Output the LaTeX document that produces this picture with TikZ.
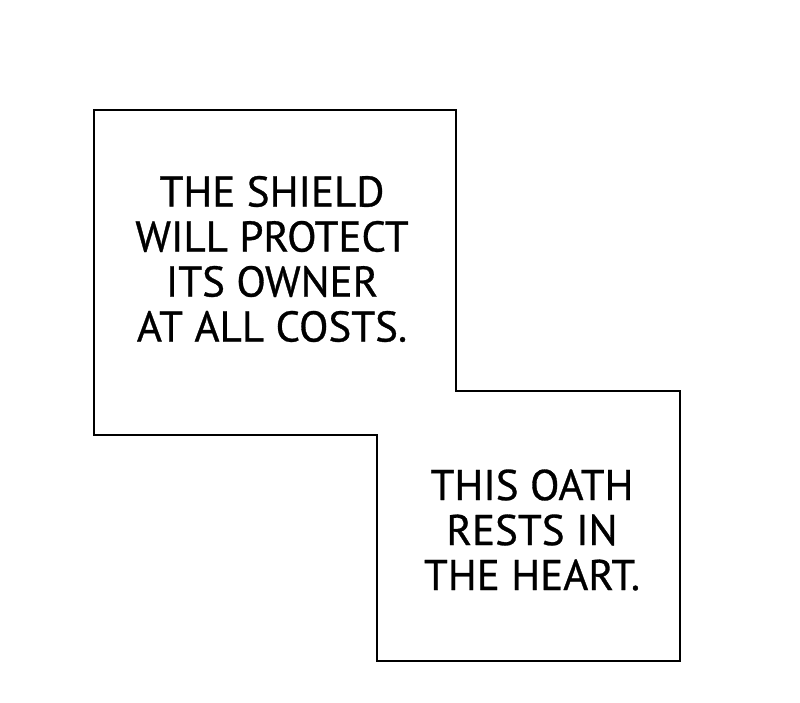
\documentclass[tikz,border=0pt]{standalone}
\usepackage{fontspec}
\newfontface\captionfont{PT Sans}[FakeBold=0.7]
\usetikzlibrary{positioning}
\tikzset{
x=1pt, y=-1pt, % pixel-like units, y running down
panel/.style={draw=black, line width=2pt, line join=miter},
caption/.style={align=center, font=\captionfont\fontsize{43}{45}\selectfont, inner sep=0pt},
}

\begin{document}
\begin{tikzpicture}
   \useasboundingbox[fill=white] (0,0) rectangle (800,702);
   % corners of the merged outline
   \coordinate (tl) at (94,110);
   \coordinate (tr) at (456,110);
   \coordinate (mr) at (456,391);
   \coordinate (br) at (680,391);
   \coordinate (bb) at (680,661);
   \coordinate (bl) at (377,661);
   \coordinate (ml) at (377,435);
   \coordinate (lb) at (94,435);
   \draw[panel] (tl) -- (tr) -- (mr) -- (br) -- (bb) -- (bl) -- (ml) -- (lb) -- cycle;
   \node[caption] (shield) at (272,259) {THE SHIELD\\WILL PROTECT\\ITS OWNER\\AT ALL COSTS.};
   \node[caption] (oath) at (532,530) {THIS OATH\\RESTS IN\\THE HEART.};
\end{tikzpicture}
\end{document}
